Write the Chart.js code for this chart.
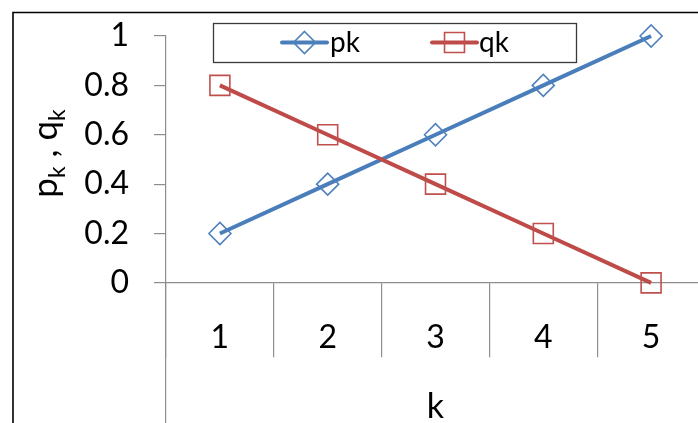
<!DOCTYPE html>
<html>
<head>
<meta charset="utf-8">
<script src="https://cdn.jsdelivr.net/npm/chart.js@4/dist/chart.umd.min.js"></script>
<style>
  html, body { margin: 0; padding: 0; background: #fff; }
  #wrap { position: relative; width: 698px; height: 423px; overflow: hidden; background: #fff; }
  #c { position: absolute; left: 0; top: 0; }
</style>
</head>
<body>
<div id="wrap"><canvas id="c" width="730" height="470"></canvas></div>
<script>
// Probabilities p_k and q_k for k = 1..5
const categories = ['1', '2', '3', '4', '5'];
const pk = [0.2, 0.4, 0.6, 0.8, 1];
const qk = [0.8, 0.6, 0.4, 0.2, 0];
const seriesNames = ['pk', 'qk'];
const yTickLabelsMin = 0; // no tick labels below zero

const FONT = 'Lato, "Open Sans", sans-serif';
const AXIS_GRAY = '#8e8e8e';

// Outer frame, titles and the framed legend
const decorations = {
  id: 'decorations',
  beforeDraw(chart) {
    const ctx = chart.ctx;
    ctx.save();
    ctx.fillStyle = '#fff';
    ctx.fillRect(0, 0, chart.width, chart.height);
    ctx.strokeStyle = '#000';
    ctx.lineWidth = 1.6;
    ctx.beginPath();
    ctx.moveTo(13, chart.height);
    ctx.lineTo(13, 12.5);
    ctx.lineTo(chart.width, 12.5);
    ctx.stroke();
    ctx.restore();
  },
  afterDraw(chart) {
    const ctx = chart.ctx;
    const xs = chart.scales.x, ys = chart.scales.y;
    const zeroY = ys.getPixelForValue(0);
    ctx.save();
    ctx.fillStyle = '#000';

    // x title
    ctx.font = '34px ' + FONT;
    ctx.textAlign = 'center';
    ctx.textBaseline = 'alphabetic';
    ctx.fillText('k', (xs.left + xs.right) / 2, zeroY + 135);

    // y title: p_k , q_k (rotated)
    const parts = [
      ['p', 35, 0], ['k', 23, 8], [' , ', 35, 0], ['q', 35, 0], ['k', 23, 8]
    ];
    let total = 0;
    parts.forEach(p => { ctx.font = p[1] + 'px ' + FONT; total += ctx.measureText(p[0]).width; });
    ctx.translate(57, (ys.getPixelForValue(1) + zeroY) / 2 - 6);
    ctx.rotate(-Math.PI / 2);
    ctx.textAlign = 'left';
    let x = -total / 2;
    parts.forEach(p => {
      ctx.font = p[1] + 'px ' + FONT;
      ctx.fillText(p[0], x, p[2]);
      x += ctx.measureText(p[0]).width;
    });
    ctx.restore();

    // legend
    ctx.save();
    ctx.fillStyle = '#fff';
    ctx.fillRect(213, 23, 363, 39);
    ctx.strokeStyle = '#3a3a3a';
    ctx.lineWidth = 1.3;
    ctx.strokeRect(213.5, 23.5, 363, 39);
    const entries = [[282, 330], [432, 479]];
    chart.data.datasets.forEach((ds, i) => {
      const [lx, tx] = entries[i];
      const cy = 42.5;
      const mx = lx + 22.5;
      ctx.strokeStyle = ds.borderColor;
      ctx.lineWidth = 4;
      ctx.lineCap = 'round';
      ctx.beginPath();
      ctx.moveTo(lx, cy);
      ctx.lineTo(lx + 45, cy);
      ctx.stroke();
      ctx.strokeStyle = ds.pointBorderColor;
      ctx.lineWidth = ds.pointBorderWidth;
      ctx.beginPath();
      if (ds.pointStyle === 'rectRot') {
        const r = ds.pointRadius;
        ctx.moveTo(mx, cy - r); ctx.lineTo(mx + r, cy);
        ctx.lineTo(mx, cy + r); ctx.lineTo(mx - r, cy); ctx.closePath();
      } else {
        const s = ds.pointRadius * Math.SQRT1_2;
        ctx.rect(mx - s, cy - s, 2 * s, 2 * s);
      }
      ctx.stroke();
      ctx.fillStyle = '#000';
      ctx.font = '28px ' + FONT;
      ctx.textAlign = 'left';
      ctx.textBaseline = 'alphabetic';
      ctx.fillText(ds.label, tx, 52);
    });
    ctx.restore();
  }
};

new Chart(document.getElementById('c'), {
  type: 'line',
  data: {
    labels: categories,
    datasets: [
      {
        label: seriesNames[0],
        data: pk,
        borderColor: '#4a7ebb',
        borderWidth: 4,
        pointStyle: 'rectRot',
        pointRadius: 11,
        pointBorderColor: '#4f81bd',
        pointBorderWidth: 1.6,
        pointBackgroundColor: 'rgba(255,255,255,0)',
        tension: 0,
        clip: false,
        order: 1
      },
      {
        label: seriesNames[1],
        data: qk,
        borderColor: '#be4b48',
        borderWidth: 4,
        pointStyle: 'rect',
        pointRadius: 14.1,
        pointBorderColor: '#c0504d',
        pointBorderWidth: 1.6,
        pointBackgroundColor: 'rgba(255,255,255,0)',
        tension: 0,
        clip: false,
        order: 0
      }
    ]
  },
  options: {
    responsive: false,
    animation: false,
    devicePixelRatio: 1,
    layout: { padding: { left: 0, top: 36, right: 25, bottom: 39 } },
    plugins: { legend: { display: false }, tooltip: { enabled: false } },
    elements: { point: { hoverRadius: 11 } },
    scales: {
      x: {
        type: 'category',
        position: { y: 0 },
        offset: true,
        grid: {
          offset: true,
          drawOnChartArea: false,
          drawTicks: true,
          tickLength: 74,
          color: AXIS_GRAY,
          lineWidth: 1.2
        },
        border: { display: true, color: AXIS_GRAY, width: 1.2 },
        ticks: {
          font: { family: FONT, size: 32 },
          color: '#000',
          padding: -38,
          maxRotation: 0
        },
        afterFit(scale) {
          scale.height = 0;
          scale.paddingLeft = 0;
          scale.paddingRight = 0;
        }
      },
      y: {
        min: -0.6,
        max: 1,
        position: 'left',
        grid: {
          drawOnChartArea: false,
          drawTicks: true,
          tickLength: 12,
          color: AXIS_GRAY,
          lineWidth: 1.2
        },
        border: { display: true, color: AXIS_GRAY, width: 1.2 },
        ticks: {
          stepSize: 0.2,
          font: { family: FONT, size: 32 },
          color: '#000',
          padding: 25,
          callback: v => String(Math.round(v * 10) / 10)
        },
        afterBuildTicks(scale) {
          scale.ticks = scale.ticks.filter(t => t.value >= yTickLabelsMin - 1e-9);
        },
        afterFit(scale) {
          scale.width = 166;
          scale.paddingTop = 0;
          scale.paddingBottom = 0;
        }
      }
    }
  },
  plugins: [decorations]
});
</script>
</body>
</html>
